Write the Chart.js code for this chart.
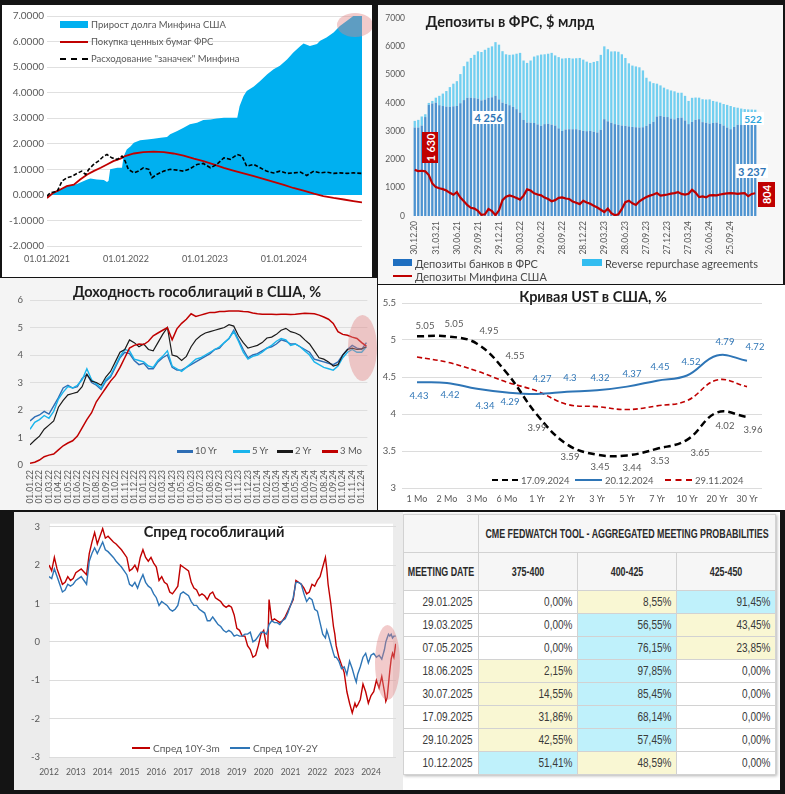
<!DOCTYPE html>
<html lang="ru">
<head>
<meta charset="utf-8">
<title>Charts</title>
<script src="https://cdn.jsdelivr.net/npm/chart.js@4.4.1/dist/chart.umd.min.js"></script>
<style>
html,body{margin:0;padding:0;}
body{width:785px;height:794px;background:#141414;position:relative;overflow:hidden;font-family:Lato,"Open Sans",sans-serif;color:#595959;}
.panel{position:absolute;overflow:hidden;}
.panel canvas{position:absolute;left:0;top:0;}
.ttl{position:absolute;white-space:nowrap;font-weight:700;font-size:14.5px;color:#1e1e1e;transform:translate(-50%,-50%);line-height:1;}
.lg{position:absolute;white-space:nowrap;line-height:1;transform:translateY(-50%);}
.sw{position:absolute;}
.ell{position:absolute;border-radius:50%;background:rgba(224,130,130,0.42);}
.box{position:absolute;display:flex;align-items:center;justify-content:center;font-weight:700;line-height:1;white-space:nowrap;}
.box span{display:inline-block;white-space:nowrap;transform:rotate(-90deg);color:#fff;font-size:11px;}
#fw{position:absolute;left:0;top:2px;width:372px;border-collapse:collapse;table-layout:fixed;font-family:"Liberation Sans",Arial,sans-serif;color:#333;box-shadow:1px 1px 3px rgba(0,0,0,0.3);}
#fw td,#fw th{border:1px solid #d2d2d2;padding:0 5px;overflow:hidden;white-space:nowrap;}
#fw th{background:#f6f6f6;font-weight:700;font-size:12px;text-align:left;color:#2a2a2a;}
#fw td{font-size:12.5px;text-align:right;color:#3a3a3a;}
#fw td.y{background:#f9f7d3;}
#fw td.c{background:#bff1fb;}
#fw .hc{display:inline-block;position:relative;left:50%;transform:translateX(-50%) scaleX(0.74);}
#fw .nc{display:inline-block;transform-origin:100% 50%;transform:scaleX(0.8);}
</style>
</head>
<body>

<!-- Panel 1 -->
<div class="panel" id="p1" style="left:2px;top:5px;width:370px;height:272px;background:#fff;">
  <canvas id="c1" width="370" height="272"></canvas>
  <div class="sw" style="left:58px;top:16px;width:28px;height:7px;background:#00b0f0;"></div>
  <div class="lg" style="left:89px;top:19.5px;font-size:9.5px;">Прирост долга Минфина США</div>
  <div class="sw" style="left:58px;top:36px;width:28px;height:2px;background:#c00000;"></div>
  <div class="lg" style="left:89px;top:37px;font-size:9.5px;">Покупка ценных бумаг ФРС</div>
  <div class="sw" style="left:58px;top:53px;width:28px;height:0;border-top:2px dashed #000;"></div>
  <div class="lg" style="left:89px;top:54px;font-size:9.5px;">Расходование "заначек" Минфина</div>
  <div class="ell" style="left:335px;top:8px;width:36px;height:24px;"></div>
</div>

<!-- Panel 2 -->
<div class="panel" id="p2" style="left:378px;top:5px;width:405px;height:279px;background:#f7f7f7;">
  <canvas id="c2" width="405" height="279"></canvas>
  <div class="ttl" style="left:132px;top:17px;">Депозиты в ФРС, $ млрд</div>
  <div class="box" id="lb1630" style="left:44px;top:127px;width:16px;height:31px;background:#c00000;"><span></span></div>
  <div class="box" id="lb804" style="left:380px;top:177px;width:17px;height:25px;background:#c00000;"><span></span></div>
  <div class="box" id="lb4256" style="left:95px;top:106px;width:31px;height:13px;background:#fff;color:#2e75b6;font-size:11px;"></div>
  <div class="box" id="lb522" style="left:364px;top:107px;width:22px;height:13px;background:#fff;color:#2ea6dc;font-size:10px;"></div>
  <div class="box" id="lb3237" style="left:358px;top:159px;width:32px;height:14px;background:#fff;color:#2e75b6;font-size:11px;"></div>
  <div class="sw" style="left:15px;top:254px;width:19px;height:7px;background:#1f6fc0;"></div>
  <div class="lg" style="left:37px;top:257.5px;font-size:11px;color:#4a4a4a;">Депозиты банков в ФРС</div>
  <div class="sw" style="left:204px;top:254px;width:20px;height:7px;background:#33bdf0;"></div>
  <div class="lg" style="left:227px;top:257.5px;font-size:11px;color:#4a4a4a;">Reverse repurchase agreements</div>
  <div class="sw" style="left:15px;top:270px;width:19px;height:2px;background:#c00000;"></div>
  <div class="lg" style="left:37px;top:271px;font-size:11px;color:#4a4a4a;">Депозиты Минфина США</div>
</div>

<!-- Panel 3 -->
<div class="panel" id="p3" style="left:0;top:278px;width:377px;height:232px;background:#f4f4f4;">
  <canvas id="c3" width="377" height="232"></canvas>
  <div class="ttl" style="left:197px;top:14px;">Доходность гособлигаций в США, %</div>
  <div class="sw" style="left:177px;top:172px;width:16px;height:2.5px;background:#2e6db4;"></div>
  <div class="lg" style="left:195px;top:173px;font-size:9.5px;">10 Yr</div>
  <div class="sw" style="left:233px;top:172px;width:17px;height:2.5px;background:#19b4ec;"></div>
  <div class="lg" style="left:252px;top:173px;font-size:9.5px;">5 Yr</div>
  <div class="sw" style="left:277px;top:172px;width:16px;height:2.5px;background:#1a1a1a;"></div>
  <div class="lg" style="left:295px;top:173px;font-size:9.5px;">2 Yr</div>
  <div class="sw" style="left:322px;top:172px;width:16px;height:2.5px;background:#c00000;"></div>
  <div class="lg" style="left:340px;top:173px;font-size:9.5px;">3 Mo</div>
  <div class="ell" style="left:348px;top:37px;width:29px;height:66px;"></div>
</div>

<!-- Panel 4 -->
<div class="panel" id="p4" style="left:378px;top:285px;width:407px;height:225px;background:#fff;">
  <canvas id="c4" width="407" height="225"></canvas>
  <div class="ttl" style="left:215px;top:12px;">Кривая UST в США, %</div>
  <div class="sw" style="left:114px;top:194px;width:26px;height:0;border-top:2.5px dashed #000;"></div>
  <div class="lg" style="left:143px;top:195.5px;font-size:9.5px;">17.09.2024</div>
  <div class="sw" style="left:197px;top:194px;width:27px;height:2px;background:#2e75b6;"></div>
  <div class="lg" style="left:227px;top:195.5px;font-size:9.5px;">20.12.2024</div>
  <div class="sw" style="left:287px;top:194px;width:27px;height:0;border-top:2px dashed #c00000;"></div>
  <div class="lg" style="left:317px;top:195.5px;font-size:9.5px;">29.11.2024</div>
</div>

<!-- Panel 5 -->
<div class="panel" id="p5" style="left:14px;top:512px;width:391px;height:278px;background:#ececec;">
  <canvas id="c5" width="391" height="278"></canvas>
  <div class="ttl" style="left:200px;top:20px;">Спред гособлигаций</div>
  <div class="sw" style="left:118px;top:235px;width:18px;height:2px;background:#c00000;"></div>
  <div class="lg" style="left:139px;top:236px;font-size:10px;">Спред 10Y-3m</div>
  <div class="sw" style="left:216px;top:235px;width:20px;height:2px;background:#2e75b6;"></div>
  <div class="lg" style="left:239px;top:236px;font-size:10px;">Спред 10Y-2Y</div>
  <div class="ell" style="left:361px;top:113px;width:25px;height:75px;"></div>
</div>

<!-- Panel 6 : table -->
<div class="panel" id="p6" style="left:403px;top:512px;width:377px;height:278px;background:#fff;">
  <table id="fw"></table>
</div>

<script>
// ---------------- DATA ----------------
// Chart 1
const debtTickValues = [2021, 2022, 2023, 2024];
const debtTickLabels = ['01.01.2021', '01.01.2022', '01.01.2023', '01.01.2024'];
const debtYears  = [2021.00,2021.13,2021.25,2021.38,2021.51,2021.55,2021.63,2021.72,2021.76,2021.78,2021.80,2021.89,2021.95,2021.97,2022.01,2022.06,2022.10,2022.18,2022.27,2022.35,2022.44,2022.52,2022.56,2022.65,2022.73,2022.81,2022.90,2022.98,2023.07,2023.15,2023.24,2023.32,2023.41,2023.44,2023.49,2023.53,2023.62,2023.70,2023.79,2023.87,2023.95,2024.04,2024.12,2024.21,2024.25,2024.33,2024.42,2024.46,2024.54,2024.63,2024.71,2024.80,2024.88,2024.99];
const debtValues = [-0.05,0.14,0.34,0.43,0.60,0.64,0.60,0.58,0.50,0.55,1.00,1.06,1.06,1.50,1.78,1.90,2.04,2.14,2.17,2.20,2.24,2.27,2.37,2.50,2.63,2.76,2.82,2.93,2.95,2.99,3.02,3.02,3.02,3.48,3.87,4.07,4.24,4.46,4.72,4.92,5.05,5.30,5.57,5.83,5.92,5.83,5.90,6.03,6.16,6.35,6.61,6.81,7.00,7.00];
const fedYears  = [2021.00,2021.08,2021.17,2021.25,2021.34,2021.42,2021.51,2021.59,2021.68,2021.76,2021.84,2021.93,2021.99,2022.10,2022.22,2022.35,2022.48,2022.60,2022.73,2022.86,2022.98,2023.11,2023.24,2023.36,2023.49,2023.62,2023.74,2023.87,2024.00,2024.12,2024.25,2024.38,2024.50,2024.63,2024.76,2024.88,2024.99];
const fedValues = [-0.12,0.08,0.21,0.34,0.40,0.60,0.80,0.93,1.06,1.19,1.32,1.42,1.52,1.62,1.67,1.69,1.67,1.62,1.54,1.42,1.32,1.19,1.06,0.95,0.84,0.73,0.63,0.51,0.39,0.27,0.17,0.05,-0.05,-0.12,-0.18,-0.24,-0.29];
const cashYears  = [2021.00,2021.04,2021.13,2021.19,2021.25,2021.32,2021.38,2021.44,2021.49,2021.53,2021.59,2021.65,2021.72,2021.76,2021.82,2021.89,2021.95,2021.99,2022.03,2022.10,2022.16,2022.22,2022.29,2022.33,2022.39,2022.48,2022.56,2022.65,2022.73,2022.81,2022.90,2022.98,2023.07,2023.15,2023.24,2023.32,2023.41,2023.47,2023.53,2023.62,2023.70,2023.78,2023.87,2023.95,2024.04,2024.12,2024.21,2024.29,2024.38,2024.46,2024.54,2024.63,2024.71,2024.80,2024.88,2024.99];
const cashValues = [-0.05,0.08,0.14,0.54,0.67,0.73,0.84,0.93,0.80,1.00,1.19,1.32,1.52,1.58,1.45,1.39,1.52,1.32,1.00,0.86,0.93,1.06,1.00,0.67,0.80,0.93,1.00,0.97,0.93,1.02,1.19,1.23,1.06,1.19,1.45,1.39,1.58,1.52,1.12,1.19,1.06,0.93,0.86,0.93,0.84,0.86,0.89,0.76,0.93,0.86,0.89,0.84,0.86,0.84,0.86,0.84];

// Chart 2 (USD bn)
const depQuarterLabels = ['30.12.20','31.03.21','30.06.21','29.09.21','29.12.21','30.03.22','29.06.22','28.09.22','28.12.22','29.03.23','28.06.23','27.09.23','27.12.23','27.03.24','26.06.24','25.09.24'];
const bankDeposits = [3130,3130,3200,3500,3930,3980,4010,3920,3890,3870,3860,3880,3890,3990,4100,4180,4185,4170,4150,4090,4120,4180,4200,4256,4125,4010,3970,3920,3860,3780,3660,3400,3305,3300,3290,3240,3190,3250,3260,3230,3200,3100,3010,3060,3070,3070,3070,3040,3010,3000,3010,2980,2955,3050,3425,3350,3300,3250,3225,3200,3190,3170,3150,3140,3130,3140,3190,3260,3330,3520,3540,3510,3500,3450,3420,3470,3480,3380,3250,3330,3400,3425,3320,3300,3270,3290,3305,3260,3200,3130,3070,3150,3225,3225,3225,3220,3237,3237];
const reverseRepo = [235,270,320,100,70,90,175,330,440,550,700,800,880,1030,1200,1280,1405,1530,1675,1710,1760,1770,1800,1894,1935,1820,1750,1780,1850,1960,2110,2100,2110,2200,2350,2440,2520,2470,2480,2540,2480,2520,2560,2520,2520,2500,2510,2550,2520,2460,2405,2470,2525,2650,2575,2550,2520,2575,2585,2520,2400,2230,2170,2150,2130,2010,1700,1500,1370,1160,1080,1030,980,990,990,890,880,870,820,850,790,760,810,820,855,780,740,750,760,800,820,700,605,575,555,550,528,522];
const treasuryDeposits = [1630,1590,1600,1580,1450,1150,1020,980,950,900,820,750,845,650,520,380,290,260,180,40,60,250,170,30,200,560,680,730,690,640,580,720,940,900,800,760,730,650,600,520,560,640,660,620,600,510,470,420,540,480,430,360,300,220,140,260,100,25,60,250,490,540,450,390,520,600,670,720,760,810,720,740,760,790,810,845,780,760,785,925,830,670,690,660,730,740,730,760,785,800,810,800,785,800,810,700,780,804];

// Chart 3 (%), semi-monthly from 01.01.22
const yieldTickLabels = ['01.01.22','01.02.22','01.03.22','01.04.22','01.05.22','01.06.22','01.07.22','01.08.22','01.09.22','01.10.22','01.11.22','01.12.22','01.01.23','01.02.23','01.03.23','01.04.23','01.05.23','01.06.23','01.07.23','01.08.23','01.09.23','01.10.23','01.11.23','01.12.23','01.01.24','01.02.24','01.03.24','01.04.24','01.05.24','01.06.24','01.07.24','01.08.24','01.09.24','01.10.24','01.11.24','01.12.24'];
const yield10Y = [1.60,1.75,1.82,1.95,1.85,2.15,2.45,2.80,2.90,2.80,2.85,3.15,3.30,3.00,2.90,2.75,3.05,3.20,3.55,3.90,4.10,4.05,3.80,3.65,3.70,3.50,3.50,3.75,3.90,4.00,3.55,3.45,3.45,3.55,3.65,3.75,3.85,3.95,4.05,4.20,4.25,4.45,4.60,4.90,4.55,4.20,3.90,4.00,4.05,4.15,4.25,4.30,4.40,4.55,4.50,4.40,4.40,4.30,4.20,4.10,3.85,3.80,3.75,3.70,3.65,3.75,4.00,4.20,4.35,4.25,4.20,4.45];
const yield5Y  = [1.30,1.55,1.65,1.80,1.70,1.95,2.40,2.65,2.85,2.80,2.90,3.10,3.50,3.10,2.95,2.80,3.10,3.25,3.60,3.95,4.20,4.15,3.85,3.80,3.75,3.60,3.55,3.80,3.95,4.15,3.60,3.50,3.40,3.55,3.70,3.85,3.90,4.00,4.10,4.20,4.30,4.45,4.60,4.85,4.50,4.10,3.85,3.95,4.00,4.10,4.25,4.35,4.50,4.60,4.55,4.35,4.40,4.30,4.15,4.00,3.75,3.65,3.55,3.50,3.45,3.60,3.90,4.10,4.20,4.10,4.10,4.30];
const yield2Y  = [0.73,0.90,1.05,1.30,1.45,1.60,2.10,2.35,2.55,2.60,2.65,2.85,3.30,3.05,3.00,2.90,3.20,3.40,3.75,4.10,4.20,4.55,4.45,4.30,4.40,4.20,4.15,4.45,4.75,5.00,4.00,3.95,3.80,3.95,4.30,4.55,4.70,4.80,4.85,4.90,4.95,5.00,5.10,5.05,4.70,4.45,4.25,4.30,4.35,4.45,4.62,4.65,4.75,4.90,4.97,4.85,4.80,4.72,4.55,4.40,4.15,3.90,3.85,3.75,3.60,3.65,4.00,4.20,4.25,4.20,4.22,4.30];
const yield3M  = [0.06,0.10,0.18,0.30,0.36,0.40,0.55,0.70,0.80,0.88,1.05,1.35,1.65,1.90,2.30,2.55,2.80,3.05,3.25,3.55,3.90,4.25,4.35,4.40,4.38,4.50,4.70,4.80,4.90,5.00,4.55,4.95,5.15,5.30,5.50,5.40,5.45,5.50,5.55,5.55,5.58,5.58,5.60,5.60,5.60,5.58,5.57,5.53,5.50,5.48,5.48,5.48,5.47,5.48,5.48,5.47,5.48,5.50,5.52,5.51,5.50,5.45,5.38,5.30,5.15,4.85,4.75,4.72,4.65,4.60,4.45,4.32];

// Chart 4 (%)
const tenors = ['1 Mo','2 Mo','3 Mo','6 Mo','1 Yr','2 Yr','3 Yr','5 Yr','7 Yr','10 Yr','20 Yr','30 Yr'];
const curve17Sep = [5.05,5.05,4.95,4.55,3.99,3.59,3.45,3.44,3.53,3.65,4.02,3.96];
const curve20Dec = [4.43,4.42,4.34,4.29,4.27,4.3,4.32,4.37,4.45,4.52,4.79,4.72];
const curve29Nov = [4.77,4.70,4.58,4.43,4.31,4.13,4.10,4.06,4.11,4.18,4.46,4.37];

// Chart 5 (p.p.)
const spreadTickYears = [2012,2013,2014,2015,2016,2017,2018,2019,2020,2021,2022,2023,2024];
const spreadYears = [2012.0,2012.1,2012.2,2012.3,2012.4,2012.5,2012.6,2012.7,2012.8,2012.9,
  2013.0,2013.2,2013.4,2013.5,2013.6,2013.7,2013.8,2013.9,
  2014.0,2014.1,2014.2,2014.4,2014.5,2014.7,2014.9,
  2015.0,2015.1,2015.2,2015.3,2015.4,2015.5,2015.6,2015.7,2015.8,2015.9,
  2016.0,2016.1,2016.2,2016.3,2016.4,2016.5,2016.6,2016.7,2016.8,2016.9,
  2017.0,2017.2,2017.3,2017.4,2017.5,2017.6,2017.7,2017.8,2017.9,
  2018.0,2018.1,2018.2,2018.3,2018.4,2018.5,2018.6,2018.7,2018.8,2018.9,
  2019.0,2019.1,2019.2,2019.3,2019.4,2019.5,2019.6,2019.7,2019.8,2019.9,
  2020.0,2020.1,2020.15,2020.2,2020.3,2020.4,2020.5,2020.6,2020.7,2020.8,2020.9,
  2021.0,2021.1,2021.2,2021.3,2021.4,2021.5,2021.6,2021.7,2021.8,2021.9,
  2022.0,2022.1,2022.2,2022.3,2022.35,2022.4,2022.5,2022.6,2022.65,2022.7,2022.8,2022.9,
  2023.0,2023.1,2023.2,2023.3,2023.4,2023.45,2023.5,2023.6,2023.7,2023.8,2023.9,
  2024.0,2024.1,2024.2,2024.3,2024.4,2024.5,2024.55,2024.6,2024.65,2024.7,2024.75,2024.8,2024.85,2024.92];
const spread10Y3M = [2.0,1.85,2.2,1.9,1.7,1.5,1.55,1.7,1.6,1.65,
  1.8,1.9,1.75,2.3,2.6,2.85,2.55,2.75,
  2.95,2.7,2.75,2.6,2.55,2.4,2.2,
  1.85,1.9,2.0,1.85,2.2,2.4,2.2,2.1,2.2,2.05,
  1.95,1.6,1.7,1.55,1.5,1.3,1.25,1.35,1.45,2.0,
  1.95,1.85,1.55,1.4,1.35,1.2,1.25,1.2,1.1,
  1.25,1.3,1.15,1.1,1.05,0.95,0.9,0.95,0.9,0.7,
  0.35,0.3,0.15,0.15,-0.1,-0.2,-0.4,-0.35,-0.1,0.2,
  0.3,-0.1,-0.15,1.1,0.55,0.6,0.55,0.5,0.55,0.65,0.8,
  0.95,1.1,1.6,1.55,1.5,1.4,1.25,1.3,1.5,1.45,
  1.6,1.7,1.95,2.2,1.9,1.5,1.0,0.4,0.2,-0.1,-0.4,-0.6,
  -0.8,-1.3,-1.6,-1.85,-1.6,-1.7,-1.65,-1.5,-1.1,-1.3,-1.6,
  -1.4,-1.3,-1.0,-1.2,-0.9,-1.3,-1.55,-1.45,-1.1,-0.75,-0.45,-0.3,-0.4,-0.05];
const spread10Y2Y = [1.7,1.65,1.9,1.7,1.5,1.3,1.35,1.5,1.45,1.5,
  1.6,1.7,1.5,2.1,2.3,2.45,2.3,2.45,
  2.6,2.4,2.35,2.2,2.1,1.95,1.75,
  1.5,1.45,1.55,1.4,1.6,1.75,1.55,1.45,1.4,1.25,
  1.15,0.95,1.05,1.0,0.95,0.85,0.8,0.85,0.95,1.25,
  1.3,1.2,1.05,0.95,0.95,0.85,0.8,0.75,0.55,
  0.55,0.65,0.55,0.45,0.4,0.3,0.25,0.3,0.25,0.15,
  0.18,0.15,0.15,0.2,0.2,0.25,0.0,0.05,0.15,0.25,
  0.25,0.2,0.3,0.45,0.55,0.5,0.5,0.45,0.55,0.6,0.75,
  0.95,1.15,1.55,1.55,1.5,1.25,1.05,1.15,1.1,0.85,
  0.8,0.5,0.2,0.1,0.3,0.2,-0.05,-0.3,-0.4,-0.4,-0.5,-0.7,
  -0.65,-0.85,-0.5,-0.7,-0.95,-1.05,-0.85,-0.65,-0.4,-0.3,-0.55,
  -0.35,-0.3,-0.4,-0.35,-0.45,-0.2,0.0,0.1,0.2,0.15,0.2,0.1,0.15,0.15];

// Table (%)
const meetingDates = ['29.01.2025','19.03.2025','07.05.2025','18.06.2025','30.07.2025','17.09.2025','29.10.2025','10.12.2025'];
const rateRanges = ['375-400','400-425','425-450'];
const prob375_400 = [0,0,0,2.15,14.55,31.86,42.55,51.41];
const prob400_425 = [8.55,56.55,76.15,97.85,85.45,68.14,57.45,48.59];
const prob425_450 = [91.45,43.45,23.85,0,0,0,0,0];

// ---------------- HELPERS ----------------
Chart.defaults.font.family = 'Lato, "Open Sans", sans-serif';
Chart.defaults.color = '#595959';
const xy = (xs, ys) => xs.map((x, i) => ({x: x, y: ys[i]}));
const base = (pad) => ({
  responsive: false, animation: false, devicePixelRatio: 1, events: [],
  layout: {padding: pad},
  plugins: {legend: {display: false}, tooltip: {enabled: false}}
});
const noGrid = {display: false, drawTicks: false};
const plainNum = v => String(Math.round(Number(v) * 100) / 100);
const areaBg = {
  id: 'areaBg',
  beforeDraw(chart, args, opts) {
    const a = chart.chartArea, ctx = chart.ctx;
    ctx.save(); ctx.fillStyle = opts.color || '#fff';
    ctx.fillRect(a.left + (opts.dl || 0), a.top + (opts.dt || 0), a.right - a.left + (opts.dw || 0), a.bottom - a.top + (opts.dh || 0));
    ctx.restore();
  }
};
const fmtK = v => String(Math.round(v)).replace(/\B(?=(\d{3})+(?!\d))/g, ' ');

// ---------------- CHART 1 ----------------
new Chart(document.getElementById('c1'), {
  type: 'line',
  data: {datasets: [
    {data: xy(debtYears, debtValues), fill: 'origin', backgroundColor: '#00b0f0', borderWidth: 0, pointRadius: 0, order: 3},
    {data: xy(fedYears, fedValues), borderColor: '#c00000', borderWidth: 1.8, pointRadius: 0, fill: false, order: 2},
    {data: xy(cashYears, cashValues), borderColor: '#000', borderWidth: 1.6, borderDash: [4, 2], pointRadius: 0, fill: false, order: 1}
  ]},
  options: Object.assign(base({left: 0, top: 11, right: 10, bottom: 0}), {
    scales: {
      x: {type: 'linear', min: 2021, max: 2024.99,
          afterBuildTicks: s => { s.ticks = debtTickValues.map(v => ({value: v})); },
          ticks: {callback: v => debtTickLabels[debtTickValues.indexOf(v)], font: {size: 9}, padding: 8, maxRotation: 0, autoSkip: false},
          grid: noGrid, border: {display: false}, afterFit: s => { s.height = 31; }},
      y: {min: -2, max: 7, ticks: {stepSize: 1, callback: v => Number(v).toFixed(4), font: {size: 10}, padding: 3},
          grid: {color: '#e0e0e0', drawTicks: false}, border: {display: false}, afterFit: s => { s.width = 45; }}
    }
  })
});

// ---------------- CHART 2 ----------------
const depCategories = bankDeposits.map((_, i) => (i % 6 === 0 ? (depQuarterLabels[i / 6] || '') : ''));
new Chart(document.getElementById('c2'), {
  type: 'bar',
  data: {labels: depCategories, datasets: [
    {type: 'line', data: treasuryDeposits, borderColor: '#c00000', borderWidth: 2.2, pointRadius: 0, fill: false, stack: 'tr', order: 0},
    {data: bankDeposits, backgroundColor: '#4d93d0', stack: 's', order: 2, barPercentage: 0.66, categoryPercentage: 1},
    {data: reverseRepo, backgroundColor: '#72cff0', stack: 's', order: 2, barPercentage: 0.66, categoryPercentage: 1}
  ]},
  options: Object.assign(base({left: 0, top: 12, right: 26, bottom: 0}), {
    scales: {
      x: {stacked: true, ticks: {autoSkip: false, minRotation: 90, maxRotation: 90, font: {size: 8.5}, padding: 5},
          grid: noGrid, border: {display: false}, afterFit: s => { s.height = 68; }},
      y: {stacked: true, min: 0, max: 7000, ticks: {stepSize: 1000, callback: plainNum, font: {size: 8.5}, padding: 8},
          grid: noGrid, border: {display: false}, afterFit: s => { s.width = 35; }}
    }
  })
});
document.querySelector('#lb1630 span').textContent = fmtK(treasuryDeposits[0]);
document.querySelector('#lb804 span').textContent = fmtK(treasuryDeposits[treasuryDeposits.length - 1]);
document.getElementById('lb4256').textContent = fmtK(Math.max.apply(null, bankDeposits));
document.getElementById('lb522').textContent = fmtK(reverseRepo[reverseRepo.length - 1]);
document.getElementById('lb3237').textContent = fmtK(bankDeposits[bankDeposits.length - 1]);

// ---------------- CHART 3 ----------------
const halfMonths = yield10Y.map((_, i) => i / 2);
const yieldTickValues = yieldTickLabels.map((_, i) => i);
new Chart(document.getElementById('c3'), {
  type: 'line',
  data: {datasets: [
    {data: xy(halfMonths, yield10Y), borderColor: '#2e6db4', borderWidth: 1.4, pointRadius: 0, order: 4},
    {data: xy(halfMonths, yield5Y), borderColor: '#19b4ec', borderWidth: 1.4, pointRadius: 0, order: 3},
    {data: xy(halfMonths, yield2Y), borderColor: '#1a1a1a', borderWidth: 1.2, pointRadius: 0, order: 2},
    {data: xy(halfMonths, yield3M), borderColor: '#c00000', borderWidth: 1.5, pointRadius: 0, order: 1}
  ]},
  options: Object.assign(base({left: 0, top: 22, right: 7, bottom: 0}), {
    scales: {
      x: {type: 'linear', min: 0, max: 35.6,
          afterBuildTicks: s => { s.ticks = yieldTickValues.map(v => ({value: v})); },
          ticks: {callback: v => yieldTickLabels[v], autoSkip: false, minRotation: 90, maxRotation: 90, font: {size: 8.5}, padding: 5},
          grid: noGrid, border: {display: false}, afterFit: s => { s.height = 45; }},
      y: {min: 0, max: 6, ticks: {stepSize: 1, font: {size: 9.5}, padding: 7},
          grid: {color: '#dedede', drawTicks: false}, border: {display: false}, afterFit: s => { s.width = 30; }}
    }
  })
});

// ---------------- CHART 4 ----------------
const offBlack = [[8,-10],[7,-12],[12,-13],[8,-17],[0,13],[3,13],[3,12],[5,12],[3,12],[13,13],[8,13],[6,13]];
const offBlue  = [[2,14],[3,12],[8,17],[3,9],[5,-15],[3,-14],[3,-12],[5,-13],[3,-14],[4,-14],[8,-14],[8,-14]];
const curveLabels = {
  id: 'curveLabels',
  afterDatasetsDraw(chart) {
    const ctx = chart.ctx;
    ctx.save();
    ctx.font = '9.5px Lato, sans-serif'; ctx.textAlign = 'center'; ctx.textBaseline = 'middle';
    [[0, offBlack, '#595959'], [1, offBlue, '#2e75b6']].forEach(function (d) {
      const meta = chart.getDatasetMeta(d[0]);
      const vals = chart.data.datasets[d[0]].data;
      meta.data.forEach(function (pt, i) {
        ctx.fillStyle = d[2];
        ctx.fillText(String(vals[i]), pt.x + d[1][i][0], pt.y + d[1][i][1]);
      });
    });
    ctx.restore();
  }
};
new Chart(document.getElementById('c4'), {
  type: 'line',
  data: {labels: tenors, datasets: [
    {data: curve17Sep, borderColor: '#000', borderWidth: 2.5, borderDash: [7, 4], pointRadius: 0, tension: 0.4},
    {data: curve20Dec, borderColor: '#2e75b6', borderWidth: 2, pointRadius: 0, tension: 0.4},
    {data: curve29Nov, borderColor: '#c00000', borderWidth: 1.6, borderDash: [5, 3], pointRadius: 0, tension: 0.4}
  ]},
  options: Object.assign(base({left: 0, top: 18, right: 23, bottom: 0}), {
    scales: {
      x: {offset: true, grid: noGrid, border: {display: false},
          ticks: {font: {size: 9}, padding: 6, maxRotation: 0, autoSkip: false}, afterFit: s => { s.height = 22; }},
      y: {min: 3, max: 5.5, ticks: {stepSize: 0.5, callback: plainNum, font: {size: 9.5}, padding: 6},
          grid: {color: '#dcdcdc', drawTicks: false}, border: {display: false}, afterFit: s => { s.width = 24; }}
    }
  }),
  plugins: [curveLabels]
});

// ---------------- CHART 5 ----------------
new Chart(document.getElementById('c5'), {
  type: 'line',
  data: {datasets: [
    {data: xy(spreadYears, spread10Y3M), borderColor: '#c00000', borderWidth: 1.4, pointRadius: 0, order: 2},
    {data: xy(spreadYears, spread10Y2Y), borderColor: '#2e75b6', borderWidth: 1.4, pointRadius: 0, order: 1}
  ]},
  options: Object.assign(base({left: 0, top: 8, right: 9, bottom: 0}), {
    plugins: {legend: {display: false}, tooltip: {enabled: false}, areaBg: {color: '#ffffff', dl: 1, dt: -3, dw: -4, dh: 4}},
    scales: {
      x: {type: 'linear', min: 2012, max: 2024.93,
          afterBuildTicks: s => { s.ticks = spreadTickYears.map(v => ({value: v})); },
          ticks: {callback: v => String(v), font: {size: 8.5}, padding: 10, maxRotation: 0, autoSkip: false},
          grid: noGrid, border: {display: false}, afterFit: s => { s.height = 33; }},
      y: {min: -3, max: 3, ticks: {stepSize: 1, font: {size: 9.5}, padding: 9},
          grid: {color: '#dcdcdc', drawTicks: false}, border: {display: false}, afterFit: s => { s.width = 35; }}
    }
  }),
  plugins: [areaBg]
});

// ---------------- TABLE ----------------
(function () {
  const t = document.getElementById('fw');
  const fmtP = v => v.toFixed(2).replace('.', ',') + '%';
  const hc = s => '<span class="hc">' + s + '</span>';
  const nc = s => '<span class="nc">' + s + '</span>';
  let h = '<colgroup><col style="width:75px"><col style="width:99px"><col style="width:99px"><col style="width:99px"></colgroup>';
  h += '<tr style="height:38px"><th></th><th colspan="3">' + hc('CME FEDWATCH TOOL - AGGREGATED MEETING PROBABILITIES') + '</th></tr>';
  h += '<tr style="height:38px"><th style="padding:0 2px">' + hc('MEETING DATE') + '</th>' + rateRanges.map(r => '<th>' + hc(r) + '</th>').join('') + '</tr>';
  meetingDates.forEach(function (d, r) {
    const vals = [prob375_400[r], prob400_425[r], prob425_450[r]];
    const mx = Math.max.apply(null, vals);
    h += '<tr style="height:23px"><td>' + nc(d) + '</td>' + vals.map(v => '<td class="' + (v === mx ? 'c' : (v > 0 ? 'y' : '')) + '">' + nc(fmtP(v)) + '</td>').join('') + '</tr>';
  });
  t.innerHTML = h;
})();
</script>
</body>
</html>
